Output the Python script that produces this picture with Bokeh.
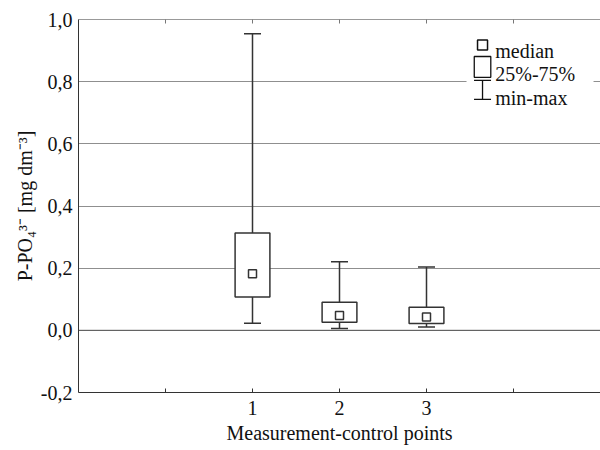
from bokeh.plotting import figure
from bokeh.models import (FixedTicker, CustomJSTickFormatter, LinearAxis, Span,
                          ColumnDataSource, Range1d)
from bokeh.core.properties import value
from bokeh.embed import file_html
from bokeh.resources import INLINE

# ---- data ----
points = [1, 2, 3]
mins = [0.023, 0.006, 0.011]
q1 = [0.107, 0.026, 0.022]
medians = [0.182, 0.048, 0.043]
q3 = [0.313, 0.090, 0.074]
maxs = [0.954, 0.221, 0.204]

y_ticks = [-0.2, 0.0, 0.2, 0.4, 0.6, 0.8, 1.0]
x_ticks = [0, 1, 2, 3, 4]
legend_labels = ["median", "25%-75%", "min-max"]

FONT = "Liberation Serif"
INK = "#333333"

src = ColumnDataSource(dict(x=points, lo=mins, q1=q1, med=medians, q3=q3, hi=maxs))

p = figure(width=600, height=450,
           x_range=Range1d(-1, 5), y_range=Range1d(-0.2, 1.0),
           output_backend="svg", toolbar_location=None,
           min_border_left=78, min_border_right=0, min_border_top=19, min_border_bottom=58)
p.outline_line_color = None
p.background_fill_color = "white"
p.border_fill_color = "white"

# axes
p.xaxis.ticker = FixedTicker(ticks=x_ticks)
p.xaxis.formatter = CustomJSTickFormatter(code="return (tick>=1 && tick<=3) ? String(tick) : '';")
p.xaxis.major_tick_in = 4
p.xaxis.major_tick_out = 0
p.xaxis.minor_tick_line_color = None
p.xaxis.axis_line_color = INK
p.xaxis.major_tick_line_color = INK
p.xaxis.major_label_text_font = FONT
p.xaxis.major_label_text_font_size = "20px"
p.xaxis.major_label_text_color = "#111111"
p.xaxis.major_label_standoff = 8
p.xaxis.axis_label = "Measurement-control points"
p.xaxis.axis_label_text_font = FONT
p.xaxis.axis_label_text_font_size = "20px"
p.xaxis.axis_label_text_font_style = "normal"
p.xaxis.axis_label_text_color = "#111111"
p.xaxis.axis_label_standoff = 4

p.yaxis.ticker = FixedTicker(ticks=y_ticks)
p.yaxis.formatter = CustomJSTickFormatter(code="return tick.toFixed(1).replace('.', ',');")
p.yaxis.major_tick_in = 0
p.yaxis.major_tick_out = 0
p.yaxis.minor_tick_line_color = None
p.yaxis.axis_line_color = INK
p.yaxis.major_label_text_font = FONT
p.yaxis.major_label_text_font_size = "20px"
p.yaxis.major_label_text_color = "#111111"
p.yaxis.major_label_standoff = 6
p.yaxis.axis_label = "P-PO\u2084\u00b3\u207b [mg dm\u207b\u00b3]"
p.yaxis.axis_label_text_font = FONT
p.yaxis.axis_label_text_font_size = "20px"
p.yaxis.axis_label_text_font_style = "normal"
p.yaxis.axis_label_text_color = "#111111"
p.yaxis.axis_label_standoff = 2

top = LinearAxis(ticker=FixedTicker(ticks=x_ticks),
                 formatter=CustomJSTickFormatter(code="return '';"),
                 major_tick_in=4, major_tick_out=0, minor_tick_line_color=None,
                 axis_line_color="#999999", major_tick_line_color="#777777",
                 major_label_text_font_size="0px", major_label_standoff=0)
p.add_layout(top, "above")

# grid
p.xgrid.visible = False
p.ygrid.ticker = FixedTicker(ticks=[t for t in y_ticks if 0 < t < 1.0])
p.ygrid.grid_line_color = "#8f8f8f"
p.ygrid.grid_line_width = 1
p.add_layout(Span(location=0, dimension="width", line_color="#444444", line_width=1))

# whiskers
p.segment(x0="x", y0="lo", x1="x", y1="q1", source=src, line_color=INK, line_width=1.5)
p.segment(x0="x", y0="q3", x1="x", y1="hi", source=src, line_color=INK, line_width=1.5)
p.scatter(x="x", y="lo", source=src, marker="dash", size=17, line_color=INK, line_width=1.5)
p.scatter(x="x", y="hi", source=src, marker="dash", size=17, line_color=INK, line_width=1.5)
# boxes
p.vbar(x="x", width=0.4, bottom="q1", top="q3", source=src,
       fill_color="white", line_color=INK, line_width=1.5)
# medians
p.scatter(x="x", y="med", source=src, marker="square", size=8,
          fill_color="white", line_color=INK, line_width=1.5)

# ---- legend (drawn manually; positions are layout in data space) ----
LX = 3.644      # glyph column
TX = 3.79       # text column
p.quad(left=3.46, right=4.92, bottom=0.735, top=0.958, fill_color="white", line_color=None)
p.scatter(x=[LX], y=[0.918], marker="square", size=10, fill_color="white",
          line_color="#111111", line_width=1.5)
p.quad(left=[LX - 0.095], right=[LX + 0.095], bottom=[0.814], top=[0.881],
       fill_color="white", line_color="#111111", line_width=1.3)
p.segment(x0=[LX], y0=[0.743], x1=[LX], y1=[0.804], line_color="#111111", line_width=1.3)
p.scatter(x=[LX, LX], y=[0.743, 0.804], marker="dash", size=17, line_color="#111111", line_width=1.3)
p.text(x=[TX, TX, TX], y=[0.900, 0.826, 0.749], text=legend_labels,
       text_font=value(FONT), text_font_size="20px", text_color="#111111",
       text_baseline="alphabetic", text_align="left")

open("out.html", "w").write(file_html(p, INLINE))
